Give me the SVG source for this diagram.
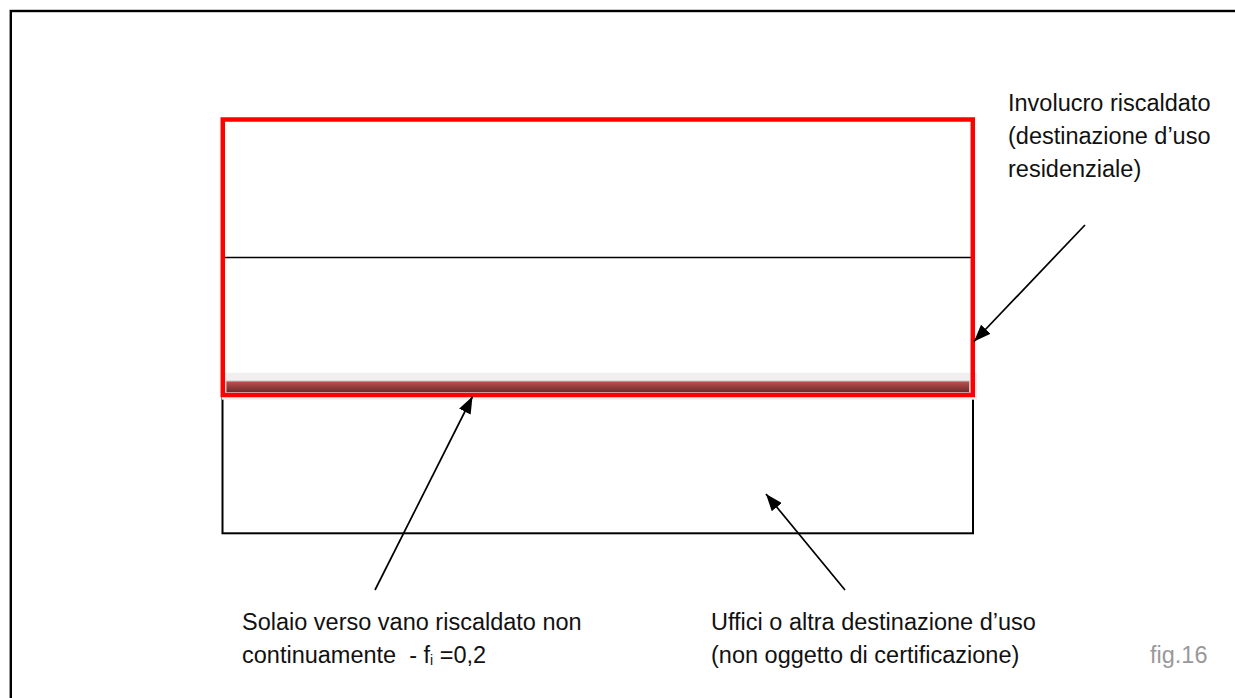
<svg xmlns="http://www.w3.org/2000/svg" width="1235" height="698" viewBox="0 0 1235 698">
<style>
.t{font-family:"Liberation Sans",Arial,Helvetica,sans-serif;font-size:23.5px;fill:#111;white-space:pre}
.g{fill:#999}
.c{stroke:#000;stroke-width:1.7;fill:none}
</style>
<defs>
<linearGradient id="bar" x1="0" y1="0" x2="0" y2="1">
<stop offset="0" stop-color="#c2524f"/>
<stop offset="1" stop-color="#6a2a2a"/>
</linearGradient>
<marker id="ah" viewBox="0 0 17 13" refX="17" refY="6.5" markerWidth="17" markerHeight="13" markerUnits="userSpaceOnUse" orient="auto">
<path d="M0,0 L17,6.5 L0,13 z" fill="#000"/>
</marker>
</defs>
<rect width="1235" height="698" fill="#fff"/>
<rect id="frame" x="10.8" y="11" width="1240" height="700" fill="none" stroke="#000" stroke-width="2.4"/>
<g id="lower-unit">
<rect x="222.5" y="395" width="750.5" height="138.3" fill="none" stroke="#000" stroke-width="2"/>
</g>
<g id="heated-envelope">
<line x1="224" y1="257.5" x2="972" y2="257.5" stroke="#000" stroke-width="1.6"/>
<rect x="222" y="372.7" width="755" height="27" fill="#f0f0f0"/>
<rect id="floor-slab" x="226" y="381" width="743.5" height="11.5" fill="url(#bar)" stroke="#c8c8c8" stroke-width="1"/>
<rect x="222.8" y="119.5" width="750" height="275.5" fill="none" stroke="#ff0000" stroke-width="4.5"/>
</g>
<g id="connectors">
<line class="c" x1="375" y1="590" x2="472.5" y2="396.5" marker-end="url(#ah)"/>
<line class="c" x1="1085" y1="225" x2="974" y2="341.5" marker-end="url(#ah)"/>
<line class="c" x1="845" y1="590" x2="766" y2="494" marker-end="url(#ah)"/>
</g>
<g id="label-involucro">
<text class="t" x="1008" y="111">Involucro riscaldato</text>
<text class="t" x="1008" y="144">(destinazione d’uso</text>
<text class="t" x="1008" y="177">residenziale)</text>
</g>
<g id="label-solaio">
<text class="t" x="242" y="630">Solaio verso vano riscaldato non</text>
<text class="t" x="242" y="663">continuamente  - f<tspan font-size="14" dy="2">i</tspan><tspan dy="-2"> =0,2</tspan></text>
</g>
<g id="label-uffici">
<text class="t" x="711" y="630">Uffici o altra destinazione d’uso</text>
<text class="t" x="711" y="663">(non oggetto di certificazione)</text>
</g>
<g id="fig-label">
<text class="t g" x="1150" y="663">fig.16</text>
</g>
</svg>
